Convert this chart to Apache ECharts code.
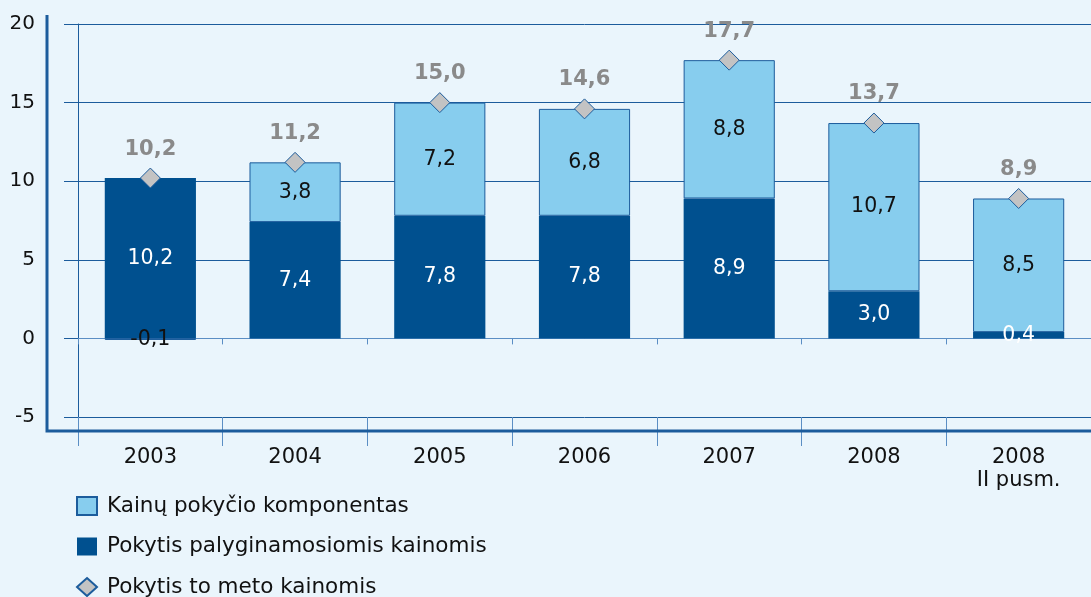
<!DOCTYPE html>
<html>
<head>
<meta charset="utf-8">
<script src="https://cdn.jsdelivr.net/npm/echarts@6/dist/echarts.min.js"></script>
<style>
html,body{margin:0;padding:0;background:#eaf5fc;}
#c{width:1091px;height:597px;}
</style>
</head>
<body>
<div id="c"></div>
<script>
const categories = ['2003', '2004', '2005', '2006', '2007', '2008', '2008\nII pusm.'];
const constantPrices = [10.2, 7.4, 7.8, 7.8, 8.9, 3.0, 0.4];   // Pokytis palyginamosiomis kainomis
const priceComponent = [-0.1, 3.8, 7.2, 6.8, 8.8, 10.7, 8.5];  // Kainų pokyčio komponentas
const currentPrices = [10.2, 11.2, 15.0, 14.6, 17.7, 13.7, 8.9]; // Pokytis to meto kainomis
const yTicks = { min: -5, max: 20, interval: 5 };

const FONT = 'DejaVu Sans';
const AXIS = '#1c5c9c';
const fmt = v => (typeof v === 'object' ? v.value : v).toFixed(1).replace('.', ',');
const GL = 78, GT = 24, GW = 1022, GH = 393;

const chart = echarts.init(document.getElementById('c'));
chart.setOption({
  backgroundColor: '#eaf5fc',
  animation: false,
  textStyle: { fontFamily: FONT },
  grid: { left: GL, top: GT, width: GW, height: GH, containLabel: false },
  legend: {
    orient: 'vertical', left: 76, top: 495, height: 200, padding: 0,
    itemWidth: 20, itemHeight: 18, itemGap: 18.5,
    textStyle: { fontFamily: FONT, fontSize: 21.5, lineHeight: 18, color: '#111', padding: [0, 0, 0, 5] },
    data: [
      { name: 'Kainų pokyčio komponentas', icon: 'rect' },
      { name: 'Pokytis palyginamosiomis kainomis', icon: 'rect' },
      { name: 'Pokytis to meto kainomis', icon: 'diamond' }
    ]
  },
  xAxis: [
    {
      type: 'category', data: categories, position: 'bottom',
      axisLine: { onZero: true, lineStyle: { color: '#5b8ec4', width: 1 } },
      axisTick: { show: true, length: 6, lineStyle: { color: '#5b8ec4' } },
      axisLabel: { show: false }, splitLine: { show: false }
    },
    {
      type: 'category', data: categories, position: 'bottom',
      axisLine: { show: false, onZero: false },
      axisTick: { show: true, length: 29, lineStyle: { color: '#5b8ec4' } },
      axisLabel: { margin: 29, fontFamily: FONT, fontSize: 21, color: '#111', lineHeight: 23 },
      splitLine: { show: false }
    }
  ],
  yAxis: {
    type: 'value', min: yTicks.min, max: yTicks.max, interval: yTicks.interval,
    axisLine: { show: true, lineStyle: { color: AXIS, width: 1 } },
    axisTick: { show: true, length: 14, lineStyle: { color: AXIS } },
    axisLabel: { margin: 43, fontFamily: FONT, fontSize: 20, color: '#111' },
    splitLine: { show: true, lineStyle: { color: AXIS, width: 1 } }
  },
  series: [
    {
      name: 'Pokytis palyginamosiomis kainomis', type: 'bar', stack: 'a',
      data: constantPrices, barWidth: '63%',
      itemStyle: { color: '#00508f' },
      label: { show: true, position: 'inside', color: '#fff', fontFamily: FONT, fontSize: 20.5, formatter: p => fmt(p.value) }
    },
    {
      name: 'Kainų pokyčio komponentas', type: 'bar', stack: 'a',
      data: priceComponent, barWidth: '63%',
      itemStyle: { color: '#87cdee', borderColor: AXIS, borderWidth: 1 },
      label: { show: true, position: 'inside', color: '#111', fontFamily: FONT, fontSize: 20.5, formatter: p => fmt(p.value) }
    },
    {
      name: 'Pokytis to meto kainomis', type: 'line', data: currentPrices,
      symbol: 'diamond', symbolSize: 20,
      lineStyle: { width: 0, opacity: 0 },
      itemStyle: { color: '#c3c3c3', borderColor: AXIS, borderWidth: 1 },
      label: { show: true, position: 'top', distance: 8, color: '#8a8a8a', fontWeight: 'bold', fontFamily: FONT, fontSize: 21, formatter: p => fmt(p.value) },
      z: 5
    }
  ],
  graphic: [
    {
      type: 'polyline', silent: true, z: 10,
      shape: { points: [[GL - 31, GT - 9], [GL - 31, GT + GH + 14], [1091, GT + GH + 14]] },
      style: { stroke: AXIS, lineWidth: 3, fill: null }
    }
  ]
});
</script>
</body>
</html>
